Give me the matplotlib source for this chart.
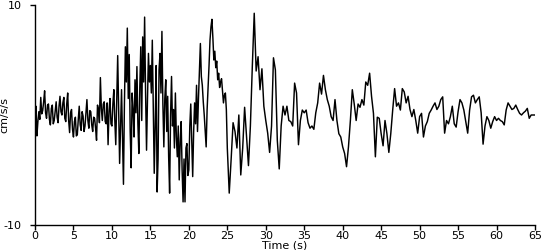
import numpy as np
import matplotlib
matplotlib.use("Agg")
import matplotlib.pyplot as plt

# Trace. 0-25 s is read at 0.125 s spacing (dense,
# high-frequency part), 25-65 s at 0.25 s spacing.
DT_FINE = 0.125
DT_COARSE = 0.25
T_SPLIT = 25.0

acc_00_10 = [-0.2, 0.8, -1.9, -0.6, 0.3, -0.4, 1.6, 0.1, 0.4, 1.2,
             2.2, 0.2, -0.3, 0.9, 1.0, -0.4, -0.9, 0.6, 0.9, -0.8,
             -0.5, 0.4, 1.2, -0.2, -0.7, 0.8, 1.7, 0.3, 0.0, 1.1,
             1.6, -0.3, -0.6, 1.0, 2.0, -0.5, -1.6, 0.2, 0.5, -1.3,
             -2.0, -0.6, -0.2, -1.9, -1.8, -0.4, 0.8, -0.9, -1.4, 0.3,
             -0.1, -1.5, -1.0, 0.2, 1.4, -0.5, -1.2, 0.4, 0.3, -0.9,
             -1.5, -0.2, -0.3, -1.2, -2.3, 0.9, 0.5, -0.7, 3.4, 0.6,
             -0.5, 1.0, 1.2, -0.6, -0.8, 1.1, -2.7, 0.4, 1.5, -0.8]
acc_10_20 = [-1.0, 1.0, 2.3, -0.5, -2.7, 1.5, 5.4, 0.5, -4.4, -1.0,
             2.3, -2.0, -6.3, 1.0, 6.2, 3.0, 7.9, 1.5, 5.5, -1.5,
             -4.8, 2.0, 0.5, -2.0, 3.2, 0.2, 4.4, -0.8, -3.5, 2.5,
             6.2, -0.5, 7.1, 3.0, 8.9, 2.0, -3.2, 1.5, 5.6, 3.0,
             4.5, 2.0, 6.8, 1.0, -5.3, -1.0, 4.5, -7.0, -4.0, 4.1,
             5.6, 2.0, 7.6, 1.0, -2.9, 1.5, 3.2, -1.5, 1.7, -3.8,
             -7.1, 0.0, 3.5, -1.0, 0.5, -3.0, 2.0, -2.0, -3.8, -1.0,
             -5.9, -2.5, -0.6, -5.0, -7.9, -4.0, -7.9, -3.0, -2.6, -5.5]
acc_20_25 = [-5.0, -1.0, 1.0, -2.5, -5.6, -1.5, 1.1, -0.8, 2.7, -1.5,
             1.5, 4.0, 6.5, 3.5, 2.7, 1.2, 0.0, -1.5, -2.9, 0.5,
             2.4, 4.5, 6.8, 8.0, 8.7, 7.0, 5.0, 5.8, 4.3, 4.9,
             3.2, 3.8, 2.5, 3.0, 3.3, 2.2, 1.1, 1.8, 2.0, 0.5]
acc_25_30 = [-3.0, -7.1, -4.0, -0.7, -1.5, -3.0, 0.0, -5.45, -3.0, 0.7,
             -2.0, -4.6, -1.0, 4.4, 9.25, 4.0, 5.3, 2.3, 4.2, 0.8]
acc_30_40 = [-0.5, -1.65, -3.4, -1.0, 5.2, 4.1, -2.3, -4.9, -1.0, 0.8,
             0.0, 0.8, -0.5, -0.6, -1.0, 2.9, 2.0, -2.7, -0.5, 0.45,
             0.2, 0.45, -0.7, -1.2, -1.0, -1.3, 0.2, 1.1, 2.9, 1.9,
             3.6, 2.3, 1.4, 0.8, -0.15, -0.5, 1.4, -0.5, -1.7, -2.0]
acc_40_50 = [-2.9, -3.5, -4.7, -2.9, -0.5, 2.3, 1.0, -0.5, 1.0, 0.7,
             1.4, 0.9, 3.0, 2.7, 3.8, 1.7, 0.15, -3.8, -0.2, -0.3,
             -1.7, -2.8, -0.5, -1.7, -3.4, -1.7, 0.45, 2.4, 0.8, 1.1,
             0.45, 2.4, 2.1, 1.1, 1.7, 0.5, -0.15, 0.5, -0.5, -1.65]
acc_50_60 = [-0.15, 0.15, -2.0, -1.0, -0.6, 0.15, 0.45, 0.8, 1.1, 0.5,
             0.8, 1.4, 1.65, -1.65, -0.5, -0.8, -0.15, 0.8, -0.8, -1.1,
             0.3, 1.4, 1.1, 0.45, -0.6, -1.65, 0.45, 1.65, 1.8, 1.1,
             1.4, 1.65, 0.2, -2.65, -1.0, -0.15, -0.5, -1.2, -0.6, -0.15]
acc_60_65 = [-0.5, -0.3, -0.5, -0.6, -0.9, 0.45, 1.1, 0.8, 0.5, 0.6,
             0.9, 0.5, 0.15, 0.0, 0.2, 0.35, 0.6, -0.3, 0.0, 0.0, 0.0]

fine = np.array(acc_00_10 + acc_10_20 + acc_20_25)
coarse = np.array(acc_25_30 + acc_30_40 + acc_40_50 + acc_50_60 + acc_60_65)
acc = np.concatenate([fine, coarse])
time = np.concatenate([np.arange(len(fine)) * DT_FINE,
                       T_SPLIT + np.arange(len(coarse)) * DT_COARSE])

x_ticks = [0, 5, 10, 15, 20, 25, 30, 35, 40, 45, 50, 55, 60, 65]
y_ticks = [-10, 10]

plt.rcParams['font.family'] = ['DejaVu Sans']
fig = plt.figure(figsize=(5.5, 2.5), dpi=100)
ax = fig.add_axes([35/550, 25/250, 500/550, 220/250])
ax.plot(time, acc, color='black', linewidth=1.05)
ax.set_xlim(0, 65)
ax.set_ylim(-10, 10)
ax.set_xticks(x_ticks)
ax.set_yticks(y_ticks)
ax.set_yticklabels([str(v) for v in y_ticks])
for s in ['top', 'right']:
    ax.spines[s].set_visible(False)
for s in ['left', 'bottom']:
    ax.spines[s].set_linewidth(1.0)
ax.tick_params(axis='both', direction='out', length=3.6, width=1,
               labelsize=8, colors='black')
ax.tick_params(axis='x', pad=1)
ax.tick_params(axis='y', pad=6)
ax.set_xlabel('Time (s)', fontsize=8, labelpad=-1)
ax.set_ylabel('cm/s/s', fontsize=8)
ax.yaxis.set_label_coords(-0.052, 0.5)
fig.savefig('out.png', dpi=100)
